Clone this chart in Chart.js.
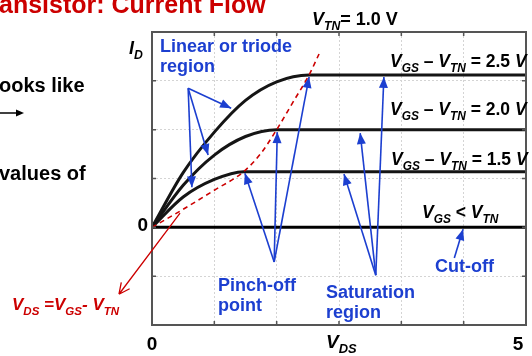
<!DOCTYPE html>
<html>
<head>
<meta charset="utf-8">
<script src="https://cdn.jsdelivr.net/npm/chart.js@4.4.0/dist/chart.umd.min.js"></script>
<style>
  html, body { margin: 0; padding: 0; background: #fff; }
  #wrap { width: 532px; height: 356px; position: relative; }
</style>
</head>
<body>
<div id="wrap"><canvas id="chart"></canvas></div>
<script>
// Values (V_DS in volts, I_D in grid units)
const vds25 = [0, 0.5, 1.0, 1.5, 2.0, 2.52, 6];
const id25 = [0, 1.12, 1.95, 2.6, 2.98, 3.12, 3.12];
const vds20 = [0, 0.5, 1.0, 1.5, 2.0, 6];
const id20 = [0, 0.86, 1.48, 1.86, 2.0, 2.0];
const vds15 = [0, 0.5, 1.0, 1.47, 6];
const id15 = [0, 0.62, 0.98, 1.14, 1.14];
const vdsCut = [0, 6];
const idCut = [0, 0];
// pinch-off locus V_DS = V_GS - V_TN
const vdsPinch = [0, 0.5, 1.0, 1.47, 1.75, 2.0, 2.26, 2.52, 2.68];
const idPinch = [0, 0.37, 0.76, 1.14, 1.52, 2.0, 2.56, 3.12, 3.55];

// Annotation arrows, in data units
const linearArrows = { from: [0.58, 2.85], to: [[1.27, 2.44], [0.90, 1.48], [0.64, 0.82]] };
const pinchArrows = { from: [1.96, -0.71], to: [[1.49, 1.11], [2.01, 1.95], [2.52, 3.08]] };
const satArrows = { from: [3.59, -0.98], to: [[3.08, 1.09], [3.34, 1.93], [3.72, 3.08]] };
const cutArrows = { from: [4.85, -0.63], to: [[4.99, -0.04]] };
const locusArrow = { from: [0.45, 0.29], to: [-0.53, -1.37] };

const BLUE = '#1c3fd0';
const RED = '#cc0000';
const FONT = '"Liberation Sans", Arial, sans-serif';

const pts = (xs, ys) => xs.map((x, i) => ({ x: x, y: ys[i] }));

// draw text made of runs: [text, flags] where flags may hold 'i' (italic) and 's' (subscript)
function rich(ctx, x, y, runs, size, color) {
    let cx = x;
    ctx.fillStyle = color;
    ctx.textBaseline = 'alphabetic';
    ctx.textAlign = 'left';
    runs.forEach(([t, f]) => {
        const sub = f.includes('s');
        const sz = sub ? size * 0.68 : size;
        ctx.font = (f.includes('i') ? 'italic ' : '') + 'bold ' + sz + 'px ' + FONT;
        ctx.fillText(t, cx, sub ? y + size * 0.28 : y);
        cx += ctx.measureText(t).width;
    });
}

function text(ctx, x, y, t, size, color, align) {
    ctx.font = 'bold ' + size + 'px ' + FONT;
    ctx.fillStyle = color;
    ctx.textAlign = align || 'left';
    ctx.textBaseline = 'alphabetic';
    ctx.fillText(t, x, y);
}

function arrowHead(ctx, x1, y1, x2, y2, len, half) {
    const a = Math.atan2(y2 - y1, x2 - x1);
    ctx.beginPath();
    ctx.moveTo(x2, y2);
    ctx.lineTo(x2 - len * Math.cos(a) + half * Math.sin(a), y2 - len * Math.sin(a) - half * Math.cos(a));
    ctx.lineTo(x2 - len * Math.cos(a) - half * Math.sin(a), y2 - len * Math.sin(a) + half * Math.cos(a));
    ctx.closePath();
    ctx.fill();
}

const overlay = {
    id: 'overlay',
    afterDraw(chart) {
        const { ctx, chartArea: ca, scales: { x, y } } = chart;
        const px = v => x.getPixelForValue(v);
        const py = v => y.getPixelForValue(v);
        ctx.save();

        // frame and inward ticks
        ctx.strokeStyle = '#555';
        ctx.lineWidth = 2;
        ctx.strokeRect(ca.left, ca.top, ca.right - ca.left, ca.bottom - ca.top);
        ctx.lineWidth = 1.5;
        ctx.beginPath();
        for (let v = 1; v < 6; v++) {
            ctx.moveTo(px(v), ca.top); ctx.lineTo(px(v), ca.top + 4);
            ctx.moveTo(px(v), ca.bottom); ctx.lineTo(px(v), ca.bottom - 4);
        }
        for (let v = -1; v < 4; v++) {
            ctx.moveTo(ca.left, py(v)); ctx.lineTo(ca.left + 4, py(v));
            ctx.moveTo(ca.right, py(v)); ctx.lineTo(ca.right - 4, py(v));
        }
        ctx.stroke();

        // blue arrows
        ctx.strokeStyle = BLUE;
        ctx.fillStyle = BLUE;
        ctx.lineWidth = 1.6;
        [linearArrows, pinchArrows, satArrows, cutArrows].forEach(g => {
            const fx = px(g.from[0]), fy = py(g.from[1]);
            g.to.forEach(([tx, ty]) => {
                const ex = px(tx), ey = py(ty);
                ctx.beginPath();
                ctx.moveTo(fx, fy);
                ctx.lineTo(ex, ey);
                ctx.stroke();
                arrowHead(ctx, fx, fy, ex, ey, 11, 4.5);
            });
        });

        // red arrow with open head
        const rx1 = px(locusArrow.from[0]), ry1 = py(locusArrow.from[1]);
        const rx2 = px(locusArrow.to[0]), ry2 = py(locusArrow.to[1]);
        ctx.strokeStyle = RED;
        ctx.lineWidth = 1.3;
        ctx.beginPath();
        ctx.moveTo(rx1, ry1);
        ctx.lineTo(rx2, ry2);
        const a = Math.atan2(ry2 - ry1, rx2 - rx1);
        [0.45, -0.45].forEach(d => {
            ctx.moveTo(rx2, ry2);
            ctx.lineTo(rx2 - 12 * Math.cos(a + d), ry2 - 12 * Math.sin(a + d));
        });
        ctx.stroke();

        // texts outside the plot
        text(ctx, -1, 13, 'ansistor: Current Flow', 25, RED);
        text(ctx, -1, 92, 'ooks like', 20, '#000');
        text(ctx, -1, 180, 'values of', 20, '#000');
        ctx.strokeStyle = '#000';
        ctx.fillStyle = '#000';
        ctx.lineWidth = 1.5;
        ctx.beginPath(); ctx.moveTo(0, 113); ctx.lineTo(18, 113); ctx.stroke();
        arrowHead(ctx, 0, 113, 24, 113, 8, 3.5);

        rich(ctx, 312, 25, [['V', 'i'], ['TN', 'is'], ['= 1.0 V', '']], 18, '#000');
        rich(ctx, 129, 54, [['I', 'i'], ['D', 'is']], 18, '#000');
        text(ctx, 148, 231, '0', 19, '#000', 'right');
        text(ctx, 152, 350, '0', 19, '#000', 'center');
        text(ctx, 518, 350, '5', 19, '#000', 'center');
        rich(ctx, 326, 348, [['V', 'i'], ['DS', 'is']], 19, '#000');
        rich(ctx, 12, 310, [['V', 'i'], ['DS', 'is'], [' =', 'i'], ['V', 'i'], ['GS', 'is'], ['- ', 'i'], ['V', 'i'], ['TN', 'is']], 17, RED);

        // texts inside the plot
        text(ctx, 160, 52, 'Linear or triode', 18, BLUE);
        text(ctx, 160, 72, 'region', 18, BLUE);
        text(ctx, 218, 291, 'Pinch-off', 18, BLUE);
        text(ctx, 218, 311, 'point', 18, BLUE);
        text(ctx, 326, 298, 'Saturation', 18, BLUE);
        text(ctx, 326, 318, 'region', 18, BLUE);
        text(ctx, 435, 272, 'Cut-off', 18, BLUE);

        const lbl = n => [['V', 'i'], ['GS', 'is'], [' \u2013 ', ''], ['V', 'i'], ['TN', 'is'], [' = ' + n + ' ', ''], ['V', 'i']];
        rich(ctx, 390, 67, lbl('2.5'), 17.5, '#000');
        rich(ctx, 390, 115, lbl('2.0'), 17.5, '#000');
        rich(ctx, 391, 165, lbl('1.5'), 17.5, '#000');
        rich(ctx, 422, 218, [['V', 'i'], ['GS', 'is'], [' < ', ''], ['V', 'i'], ['TN', 'is']], 17.5, '#000');

        ctx.restore();
    }
};

const curve = (data) => ({
    data: data,
    borderColor: '#151515',
    borderWidth: 3,
    pointRadius: 0,
    cubicInterpolationMode: 'monotone',
    fill: false
});

new Chart(document.getElementById('chart'), {
    type: 'line',
    data: {
        datasets: [
            {
                data: pts(vdsPinch, idPinch),
                borderColor: RED,
                borderWidth: 1.6,
                borderDash: [5, 4],
                pointRadius: 0,
                cubicInterpolationMode: 'monotone',
                fill: false
            },
            curve(pts(vds25, id25)),
            curve(pts(vds20, id20)),
            curve(pts(vds15, id15)),
            Object.assign(curve(pts(vdsCut, idCut)), { borderColor: '#000' })
        ]
    },
    options: {
        responsive: true,
        maintainAspectRatio: false,
        animation: false,
        layout: { padding: { left: 152, right: 6, top: 32, bottom: 31 } },
        plugins: {
            legend: { display: false },
            tooltip: { enabled: false }
        },
        scales: {
            x: {
                type: 'linear',
                min: 0,
                max: 6,
                ticks: { display: false, stepSize: 1 },
                grid: { color: '#d4d4d4', lineWidth: 1, drawTicks: false },
                border: { display: false, dash: [2, 2] }
            },
            y: {
                type: 'linear',
                min: -2,
                max: 4,
                ticks: { display: false, stepSize: 1 },
                grid: { color: '#d4d4d4', lineWidth: 1, drawTicks: false },
                border: { display: false, dash: [2, 2] }
            }
        }
    },
    plugins: [overlay]
});
</script>
</body>
</html>
